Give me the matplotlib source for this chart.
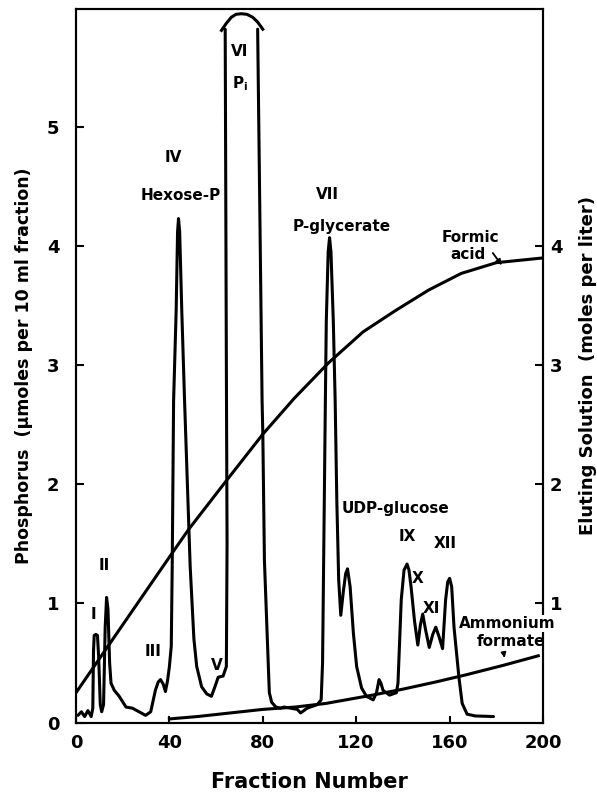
import matplotlib
matplotlib.use("Agg")
import matplotlib.pyplot as plt
import numpy as np

plt.rcParams['font.family'] = ['DejaVu Sans']
plt.rcParams['font.weight'] = 'bold'
plt.rcParams['mathtext.default'] = 'bf'

# ---- Phosphorus trace (fraction number, umoles per 10 ml fraction); NaN = peak VI off scale
p_frac = [0.85, 2.3, 3.7, 5.1, 6.5, 7.2, 7.5, 7.8, 8.5, 9.2, 9.7, 10.4, 11.0, 11.8, 12.5, 13.1,
          13.7, 14.4, 15.0, 16.4, 18.5, 21.4, 24.2, 27.0, 29.8, 32.0, 34.0, 35.2, 36.2, 37.4,
          38.3, 39.2, 40.0, 40.8, 41.2, 41.8, 42.9, 43.5, 43.9, 44.4, 45.3, 46.5, 48.9, 50.5,
          51.7, 53.8, 56.0, 58.0, 59.5, 60.9, 63.0, 64.4, 64.7, 64.4, 63.9, np.nan,
          77.8, 79.7, 80.0, 80.7, 82.8, 83.8, 85.6, 87.5, 89.1, 92.0, 94.8, 96.2, 99.0, 103.3,
          105.0, 105.6, 106.8, 107.2, 108.0, 108.6, 109.2, 110.2, 111.0, 111.7, 112.5, 113.4,
          114.5, 115.5, 116.3, 117.4, 118.8, 120.2, 122.3, 124.4, 127.3, 128.7, 129.8, 130.6,
          131.5, 134.3, 137.2, 137.9, 139.3, 140.5, 141.8, 142.6, 143.5, 145.0, 146.4, 147.5,
          148.5, 149.7, 151.3, 152.8, 154.1, 155.5, 157.0, 158.3, 159.2, 160.0, 160.9, 161.9,
          164.0, 165.4, 167.5, 171.0, 178.8]
p_val = [0.06, 0.09, 0.05, 0.10, 0.05, 0.12, 0.60, 0.73, 0.74, 0.73, 0.55, 0.15, 0.09, 0.15, 0.80, 1.05,
         0.95, 0.50, 0.33, 0.27, 0.22, 0.13, 0.12, 0.09, 0.06, 0.09, 0.27, 0.34, 0.36, 0.32,
         0.26, 0.35, 0.47, 0.64, 1.30, 2.70, 3.46, 4.12, 4.23, 4.12, 3.46, 2.70, 1.31, 0.70,
         0.47, 0.30, 0.24, 0.22, 0.30, 0.38, 0.39, 0.47, 1.50, 3.00, 5.82, np.nan,
         5.82, 2.70, 2.44, 1.36, 0.25, 0.17, 0.13, 0.12, 0.13, 0.12, 0.11, 0.08, 0.12, 0.15,
         0.19, 0.50, 2.70, 3.37, 3.95, 4.07, 3.95, 3.37, 2.70, 1.87, 1.20, 0.90,
         1.10, 1.25, 1.29, 1.14, 0.75, 0.47, 0.29, 0.22, 0.19, 0.25, 0.36, 0.33,
         0.27, 0.23, 0.25, 0.33, 1.03, 1.28, 1.33, 1.28, 1.14, 0.85, 0.65, 0.82,
         0.91, 0.78, 0.63, 0.74, 0.80, 0.72, 0.62, 1.03, 1.18, 1.21, 1.14, 0.80,
         0.38, 0.16, 0.07, 0.055, 0.05]

# ---- Off-scale cap of peak VI (Pi)
cap_frac = [62.3, 64.4, 66.5, 68.5, 70.8, 73.2, 75.7, 77.8, 80.0]
cap_val = [5.81, 5.87, 5.92, 5.945, 5.95, 5.945, 5.92, 5.88, 5.82]

# ---- Eluting solutions (moles per liter)
formic_frac = [0, 20, 39.7, 48.2, 64.4, 80, 93.4, 108.2, 123, 137, 151, 165, 180, 200]
formic_val = [0.25, 0.82, 1.38, 1.62, 2.03, 2.42, 2.72, 3.02, 3.28, 3.46, 3.63, 3.77, 3.86, 3.90]
amm_frac = [40, 52, 66, 80, 94, 107, 127, 140, 154, 167, 183, 198]
amm_val = [0.03, 0.05, 0.08, 0.11, 0.13, 0.16, 0.23, 0.28, 0.34, 0.40, 0.48, 0.56]

x_ticks = [0, 40, 80, 120, 160, 200]
y_ticks_left = [0, 1, 2, 3, 4, 5]
y_ticks_right = [1, 2, 3, 4]

# peak labels: text, fraction, value
peak_labels = [("I", 7.3, 0.91), ("II", 11.9, 1.32), ("III", 32.9, 0.60), ("IV", 41.8, 4.74),
               ("Hexose-P", 44.7, 4.42), ("V", 60.5, 0.48), ("VI", 70.1, 5.63),
               (r"$\mathbf{P_i}$", 70.4, 5.36), ("VII", 107.5, 4.43), ("P-glycerate", 113.8, 4.16),
               ("UDP-glucose", 136.9, 1.80), ("IX", 141.7, 1.56), ("X", 146.3, 1.21),
               ("XI", 152.0, 0.96), ("XII", 158.3, 1.50)]

fig = plt.figure(figsize=(5.97, 7.93), dpi=100)
ax = fig.add_axes([0.1273, 0.0889, 0.7822, 0.8998])
ax2 = ax.twinx()

ylim = (0, 5.99)
ax.set_xlim(0, 200)
ax.set_ylim(*ylim)
ax2.set_ylim(*ylim)

lw = 2.2
ax.plot(p_frac, p_val, color='black', lw=lw, solid_joinstyle='round', solid_capstyle='round')
ax.plot(cap_frac, cap_val, color='black', lw=lw, solid_joinstyle='round', clip_on=False)
ax2.plot(formic_frac, formic_val, color='black', lw=lw, solid_joinstyle='round')
ax2.plot(amm_frac, amm_val, color='black', lw=lw, solid_joinstyle='round')

for s in list(ax.spines.values()) + list(ax2.spines.values()):
    s.set_linewidth(1.5)

ax.set_xticks(x_ticks)
ax.set_xticklabels([str(v) for v in x_ticks])
ax.set_yticks(y_ticks_left)
ax.set_yticklabels([str(v) for v in y_ticks_left])
ax2.set_yticks(y_ticks_right)
ax2.set_yticklabels([str(v) for v in y_ticks_right])

ax.tick_params(axis='x', direction='in', length=5, width=1.5, pad=8, labelsize=13)
ax.tick_params(axis='y', direction='in', length=6, width=1.5, pad=12, labelsize=13)
ax2.tick_params(axis='y', direction='in', length=6, width=1.5, pad=5, labelsize=13)

ax.set_xlabel("Fraction Number", fontsize=15, fontweight='bold', labelpad=15)
ax.set_ylabel("Phosphorus  (\u03bcmoles per 10 ml fraction)", fontsize=12.5, fontweight='bold', labelpad=10)
ax2.set_ylabel("Eluting Solution  (moles per liter)", fontsize=13, fontweight='bold', labelpad=12)

fs = 11
for txt, xf, yv in peak_labels:
    ax2.text(xf, yv, txt, fontsize=fs, fontweight='bold', ha='center', va='center')

ax2.text(169, 4.07, "Formic", fontsize=fs, fontweight='bold', ha='center', va='center')
ax2.text(167.7, 3.93, "acid", fontsize=fs, fontweight='bold', ha='center', va='center')
ax2.annotate("", xy=(183.1, 3.82), xytext=(177.8, 3.96),
             arrowprops=dict(arrowstyle='-|>', color='black', lw=1.3, mutation_scale=8))

ax2.text(184.5, 0.83, "Ammonium", fontsize=fs, fontweight='bold', ha='center', va='center',
         zorder=10, clip_on=False,
         bbox=dict(boxstyle='square,pad=0.05', fc='white', ec='none'))
ax2.text(186.2, 0.68, "formate", fontsize=fs, fontweight='bold', ha='center', va='center')
ax2.annotate("", xy=(183.8, 0.52), xytext=(183.1, 0.59),
             arrowprops=dict(arrowstyle='-|>', color='black', lw=1.3, mutation_scale=7))

fig.savefig("out.png", dpi=100)
